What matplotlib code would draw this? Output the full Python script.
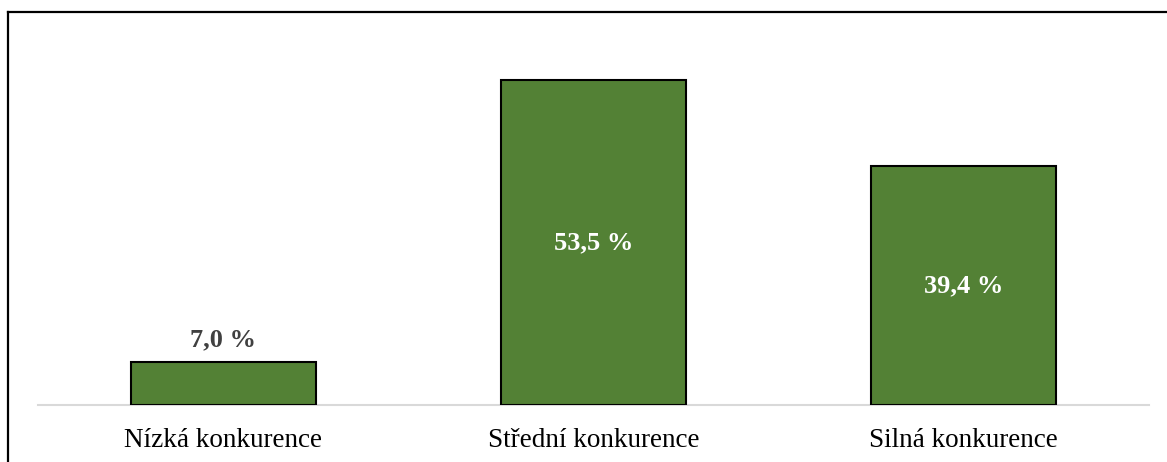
#!/usr/bin/env python3

import matplotlib.pyplot as plt
from matplotlib.lines import Line2D

categories = ["Nízká konkurence", "Střední konkurence", "Silná konkurence"]
values = [7.0, 53.5, 39.4]
value_labels = ["7,0 %", "53,5 %", "39,4 %"]

GREEN = "#538135"
W, H = 1167, 462


def main():
    plt.rcParams["font.family"] = ["Liberation Serif", "DejaVu Serif"]
    fig = plt.figure(figsize=(W / 100, H / 100), dpi=100)

    # axes box in pixel terms: x 38..1149, baseline at y=405
    y_top = 405 - 60 * 6.075
    ax = fig.add_axes([38 / W, (H - 405) / H, (1149 - 38) / W, (405 - y_top) / H])
    x = range(len(categories))
    ax.bar(x, values, width=0.5, color=GREEN, edgecolor="black", linewidth=1.5, zorder=3)
    ax.set_xlim(-0.5, 2.5)
    ax.set_ylim(0, 60)

    for i, (v, lab) in enumerate(zip(values, value_labels)):
        if v < 15:
            ax.annotate(lab, (i, v), xytext=(0, 8), textcoords="offset points",
                        ha="center", va="bottom", fontsize=19, fontweight="bold",
                        color="#404040")
        else:
            ax.text(i, v / 2, lab, ha="center", va="center", fontsize=19,
                    fontweight="bold", color="white", zorder=4)

    for side in ["top", "right", "left"]:
        ax.spines[side].set_visible(False)
    ax.spines["bottom"].set_color("#d9d9d9")
    ax.spines["bottom"].set_linewidth(1.5)
    ax.set_yticks([])
    ax.set_xticks(list(x))
    ax.set_xticklabels(categories, fontsize=19.5, color="black")
    ax.tick_params(axis="x", length=0, pad=16.5)

    # outer frame: left and top only
    fig.add_artist(Line2D([8 / W, 8 / W], [0, (H - 12) / H], color="black", linewidth=1.6))
    fig.add_artist(Line2D([8 / W, 1], [(H - 12) / H, (H - 12) / H], color="black", linewidth=1.6))

    fig.savefig("out.png", dpi=100)


if __name__ == '__main__':
    main()
